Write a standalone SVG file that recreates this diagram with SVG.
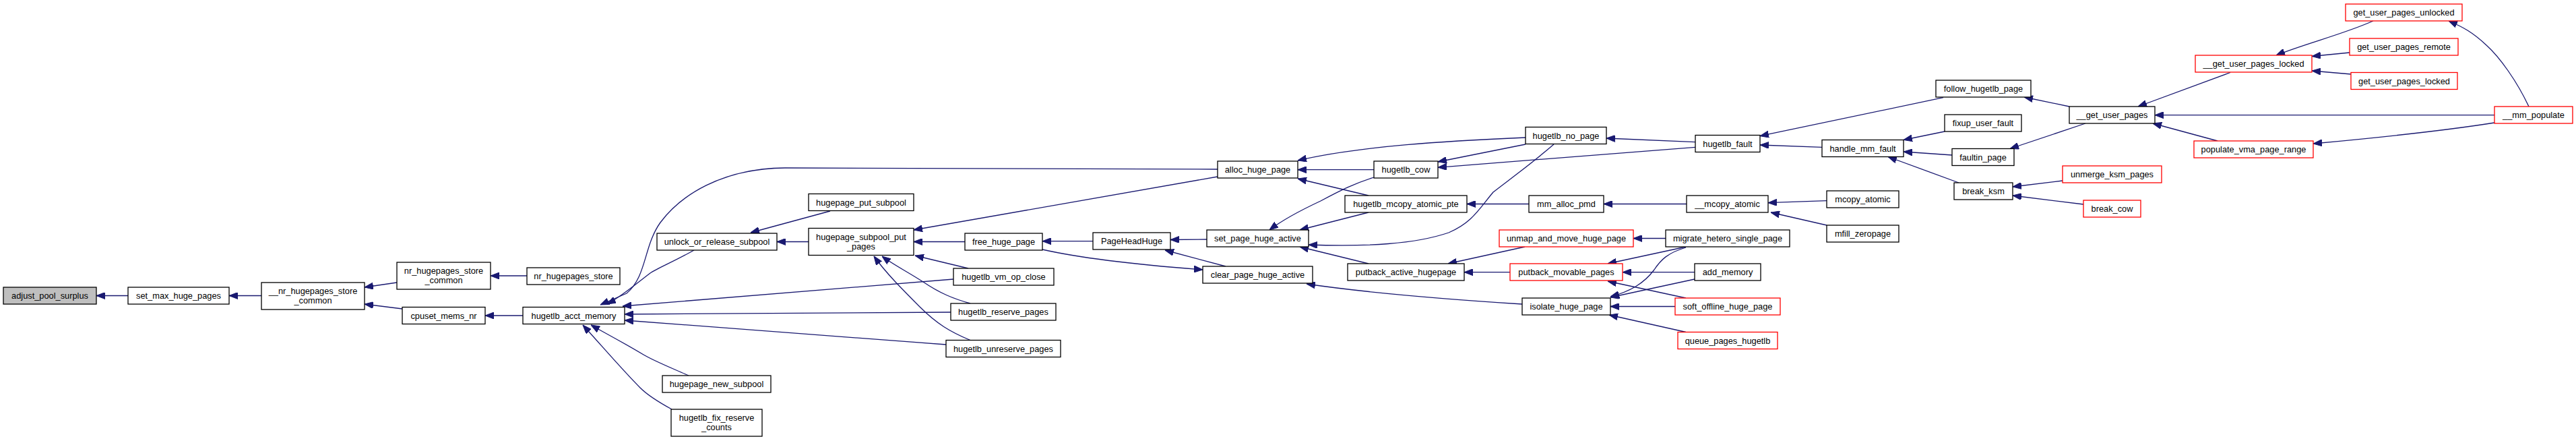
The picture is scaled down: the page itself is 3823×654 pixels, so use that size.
<svg xmlns="http://www.w3.org/2000/svg" width="3823" height="654" viewBox="0 0 3823 654">
<style>
.n rect{fill:#fff;stroke:#000;stroke-width:1.3}
.n.r rect{stroke:#ff0000}
.n.g rect{fill:#bfbfbf}
.n text{font-family:"Liberation Sans",Arial,sans-serif;font-size:12.8px;fill:#000;text-anchor:middle}
.e path{fill:none;stroke:#191970;stroke-width:1.3;marker-end:url(#ah)}
</style>
<defs>
<marker id="ah" viewBox="0 0 13 10" refX="13" refY="5" markerWidth="13" markerHeight="10" markerUnits="userSpaceOnUse" orient="auto">
<polygon points="0,0 13,5 0,10" fill="#191970" stroke="#191970" stroke-width="1"/>
</marker>
</defs>
<rect width="3823" height="654" fill="#fff"/>
<g id="edges" class="e">
<path d="M190,438.5 L143,438.5"/>
<path d="M388,438.5 L340,438.5"/>
<path d="M589,419 L541,426"/>
<path d="M597,458 L541,451"/>
<path d="M782,409 L728,409"/>
<path d="M776,468 L720,468"/>
<path d="M1807,251 L1165,249 C1070,250 1010,290 980,330 C955,365 960,410 930,435 L891,452"/>
<path d="M1030,371 C1000,388 975,398 965,405 C945,420 925,438 901,451"/>
<path d="M1415,414 L924,454"/>
<path d="M1411,463 L927,466"/>
<path d="M1404,511 L927,475"/>
<path d="M1022,557 C995,545 970,535 955,526 C925,508 900,495 877,482"/>
<path d="M997,607 C975,595 960,585 950,575 C925,550 895,515 865,482"/>
<path d="M1200,358.5 L1153,358.5"/>
<path d="M1232,313 L1114,345"/>
<path d="M1807,262 L1356,341"/>
<path d="M1432,358.5 L1356,358.5"/>
<path d="M1437,398 L1358,379"/>
<path d="M1440,450 C1415,443 1395,435 1370,418 C1345,402 1325,392 1309,380"/>
<path d="M1440,504.5 C1410,492 1390,480 1365,455 C1340,430 1315,405 1297,380"/>
<path d="M1622,357.7 L1547,357.7"/>
<path d="M1791,355 L1737,355.5"/>
<path d="M1819,395 L1729,371"/>
<path d="M1547,370 C1600,382 1680,392 1785,400"/>
<path d="M2039,251.7 L1926,251.7"/>
<path d="M2264,204 C2150,209 2020,216 1926,238"/>
<path d="M2264,214 L2134,240"/>
<path d="M2031,290 L1926,265"/>
<path d="M2039,263 C2010,272 1990,282 1960,298 C1930,312 1905,325 1884,341"/>
<path d="M2031,315 L1929,341"/>
<path d="M2306,214 C2270,245 2235,270 2216,285 C2195,310 2185,330 2150,345 C2100,362 2030,366 1942,363"/>
<path d="M2031,391 L1929,366"/>
<path d="M2259,451 C2150,444 2020,433 1939,421"/>
<path d="M2269,302.5 L2177,302.5"/>
<path d="M2516,210.7 L2384,205"/>
<path d="M2516,218.3 L2134,248.3"/>
<path d="M2503,302.5 L2380,302.5"/>
<path d="M2263,366 L2149,391"/>
<path d="M2241,403.7 L2173,403.7"/>
<path d="M2472,353.5 L2424,353.5"/>
<path d="M2502,366 L2386,391"/>
<path d="M2502,367 C2475,375 2465,385 2455,400 C2440,420 2420,432 2390,440"/>
<path d="M2515,403.7 L2408,403.7"/>
<path d="M2515,414 L2390,441"/>
<path d="M2486,454.5 L2390,454.5"/>
<path d="M2502,442 L2386,417"/>
<path d="M2502,492.5 L2388,467"/>
<path d="M2711,297.7 L2624,300.7"/>
<path d="M2711,334 L2628,315"/>
<path d="M2884,144.7 L2612,201.7"/>
<path d="M2704,218.3 L2612,215"/>
<path d="M2886,195 L2825,207.5"/>
<path d="M2897,230 L2825,225"/>
<path d="M2907,271 L2802,232.5"/>
<path d="M3071,158 L3004,144"/>
<path d="M3095,183 L2983,220.5"/>
<path d="M3061,268 L2987,277"/>
<path d="M3092,303 L2987,290"/>
<path d="M3310,107.5 L3173,158"/>
<path d="M3702,170.7 L3198,170.7"/>
<path d="M3291,209 L3195,183"/>
<path d="M3522,31 C3480,50 3420,65 3378,82"/>
<path d="M3487,78 L3431,83.5"/>
<path d="M3489,110 L3431,105"/>
<path d="M3753,158 C3735,120 3710,85 3690,67 C3670,48 3655,40 3634,31"/>
<path d="M3702,182 C3620,195 3520,205 3433,213"/>
</g>
<g id="adjust_pool_surplus" class="n g"><rect x="5" y="426" width="138" height="25"/><text x="74" y="443">adjust_pool_surplus</text></g>
<g id="set_max_huge_pages" class="n"><rect x="190" y="426" width="150" height="25"/><text x="265" y="443">set_max_huge_pages</text></g>
<g id="__nr_hugepages_store_common" class="n"><rect x="388" y="419" width="153" height="40"/><text x="464.5" y="436">__nr_hugepages_store</text><text x="464.5" y="450">_common</text></g>
<g id="nr_hugepages_store_common" class="n"><rect x="589" y="389" width="139" height="40"/><text x="658.5" y="406">nr_hugepages_store</text><text x="658.5" y="420">_common</text></g>
<g id="cpuset_mems_nr" class="n"><rect x="597" y="455.5" width="123" height="25"/><text x="658.5" y="472.5">cpuset_mems_nr</text></g>
<g id="nr_hugepages_store" class="n"><rect x="782" y="397" width="138" height="25"/><text x="851" y="414">nr_hugepages_store</text></g>
<g id="hugetlb_acct_memory" class="n"><rect x="776" y="455.5" width="151" height="25"/><text x="851.5" y="472.5">hugetlb_acct_memory</text></g>
<g id="unlock_or_release_subpool" class="n"><rect x="975" y="346" width="178" height="25"/><text x="1064" y="363">unlock_or_release_subpool</text></g>
<g id="hugepage_new_subpool" class="n"><rect x="983" y="557" width="161" height="25"/><text x="1063.5" y="574">hugepage_new_subpool</text></g>
<g id="hugetlb_fix_reserve_counts" class="n"><rect x="996" y="607" width="135" height="40"/><text x="1063.5" y="624">hugetlb_fix_reserve</text><text x="1063.5" y="638">_counts</text></g>
<g id="hugepage_put_subpool" class="n"><rect x="1200" y="287.5" width="156" height="25"/><text x="1278" y="304.5">hugepage_put_subpool</text></g>
<g id="hugepage_subpool_put_pages" class="n"><rect x="1200" y="338.5" width="156" height="40"/><text x="1278" y="355.5">hugepage_subpool_put</text><text x="1278" y="369.5">_pages</text></g>
<g id="alloc_huge_page" class="n"><rect x="1807" y="239" width="119" height="25"/><text x="1866.5" y="256">alloc_huge_page</text></g>
<g id="free_huge_page" class="n"><rect x="1432" y="346" width="115" height="25"/><text x="1489.5" y="363">free_huge_page</text></g>
<g id="hugetlb_vm_op_close" class="n"><rect x="1415" y="398" width="149" height="25"/><text x="1489.5" y="415">hugetlb_vm_op_close</text></g>
<g id="hugetlb_reserve_pages" class="n"><rect x="1411" y="450" width="156" height="25"/><text x="1489" y="467">hugetlb_reserve_pages</text></g>
<g id="hugetlb_unreserve_pages" class="n"><rect x="1404" y="504.5" width="170" height="25"/><text x="1489" y="521.5">hugetlb_unreserve_pages</text></g>
<g id="PageHeadHuge" class="n"><rect x="1622" y="345" width="115" height="25"/><text x="1679.5" y="362">PageHeadHuge</text></g>
<g id="set_page_huge_active" class="n"><rect x="1791" y="341" width="151" height="25"/><text x="1866.5" y="358">set_page_huge_active</text></g>
<g id="clear_page_huge_active" class="n"><rect x="1785" y="395" width="163" height="25"/><text x="1866.5" y="412">clear_page_huge_active</text></g>
<g id="hugetlb_cow" class="n"><rect x="2039" y="239" width="95" height="25"/><text x="2086.5" y="256">hugetlb_cow</text></g>
<g id="hugetlb_no_page" class="n"><rect x="2264" y="188.5" width="120" height="25"/><text x="2324" y="205.5">hugetlb_no_page</text></g>
<g id="hugetlb_mcopy_atomic_pte" class="n"><rect x="1996" y="290" width="181" height="25"/><text x="2086.5" y="307">hugetlb_mcopy_atomic_pte</text></g>
<g id="mm_alloc_pmd" class="n"><rect x="2269" y="290" width="111" height="25"/><text x="2324.5" y="307">mm_alloc_pmd</text></g>
<g id="putback_active_hugepage" class="n"><rect x="2000" y="391" width="173" height="25"/><text x="2086.5" y="408">putback_active_hugepage</text></g>
<g id="unmap_and_move_huge_page" class="n r"><rect x="2225" y="341" width="199" height="25"/><text x="2324.5" y="358">unmap_and_move_huge_page</text></g>
<g id="putback_movable_pages" class="n r"><rect x="2241" y="391" width="167" height="25"/><text x="2324.5" y="408">putback_movable_pages</text></g>
<g id="isolate_huge_page" class="n"><rect x="2259" y="442" width="131" height="25"/><text x="2324.5" y="459">isolate_huge_page</text></g>
<g id="hugetlb_fault" class="n"><rect x="2516" y="200.5" width="96" height="25"/><text x="2564" y="217.5">hugetlb_fault</text></g>
<g id="__mcopy_atomic" class="n"><rect x="2503" y="290" width="121" height="25"/><text x="2563.5" y="307">__mcopy_atomic</text></g>
<g id="migrate_hetero_single_page" class="n"><rect x="2472" y="341" width="184" height="25"/><text x="2564" y="358">migrate_hetero_single_page</text></g>
<g id="add_memory" class="n"><rect x="2515" y="391" width="98" height="25"/><text x="2564" y="408">add_memory</text></g>
<g id="soft_offline_huge_page" class="n r"><rect x="2486" y="442" width="156" height="25"/><text x="2564" y="459">soft_offline_huge_page</text></g>
<g id="queue_pages_hugetlb" class="n r"><rect x="2490" y="492.5" width="148" height="25"/><text x="2564" y="509.5">queue_pages_hugetlb</text></g>
<g id="mcopy_atomic" class="n"><rect x="2711" y="283" width="107" height="25"/><text x="2764.5" y="300">mcopy_atomic</text></g>
<g id="mfill_zeropage" class="n"><rect x="2711" y="334" width="107" height="25"/><text x="2764.5" y="351">mfill_zeropage</text></g>
<g id="handle_mm_fault" class="n"><rect x="2704" y="207.5" width="121" height="25"/><text x="2764.5" y="224.5">handle_mm_fault</text></g>
<g id="follow_hugetlb_page" class="n"><rect x="2873" y="119" width="141" height="25"/><text x="2943.5" y="136">follow_hugetlb_page</text></g>
<g id="fixup_user_fault" class="n"><rect x="2886" y="170" width="114" height="25"/><text x="2943" y="187">fixup_user_fault</text></g>
<g id="faultin_page" class="n"><rect x="2897" y="220.5" width="92" height="25"/><text x="2943" y="237.5">faultin_page</text></g>
<g id="break_ksm" class="n"><rect x="2900" y="271" width="87" height="25"/><text x="2943.5" y="288">break_ksm</text></g>
<g id="__get_user_pages" class="n"><rect x="3071" y="158" width="127" height="25"/><text x="3134.5" y="175">__get_user_pages</text></g>
<g id="unmerge_ksm_pages" class="n r"><rect x="3061" y="246" width="147" height="25"/><text x="3134.5" y="263">unmerge_ksm_pages</text></g>
<g id="break_cow" class="n r"><rect x="3092" y="297" width="85" height="25"/><text x="3134.5" y="314">break_cow</text></g>
<g id="__get_user_pages_locked" class="n r"><rect x="3258" y="82" width="173" height="25"/><text x="3344.5" y="99">__get_user_pages_locked</text></g>
<g id="populate_vma_page_range" class="n r"><rect x="3256" y="209" width="177" height="25"/><text x="3344.5" y="226">populate_vma_page_range</text></g>
<g id="get_user_pages_unlocked" class="n r"><rect x="3481" y="6" width="173" height="25"/><text x="3567.5" y="23">get_user_pages_unlocked</text></g>
<g id="get_user_pages_remote" class="n r"><rect x="3487" y="57" width="161" height="25"/><text x="3567.5" y="74">get_user_pages_remote</text></g>
<g id="get_user_pages_locked" class="n r"><rect x="3489" y="107.5" width="158" height="25"/><text x="3568" y="124.5">get_user_pages_locked</text></g>
<g id="__mm_populate" class="n r"><rect x="3702" y="158" width="116" height="25"/><text x="3760" y="175">__mm_populate</text></g>
</svg>
